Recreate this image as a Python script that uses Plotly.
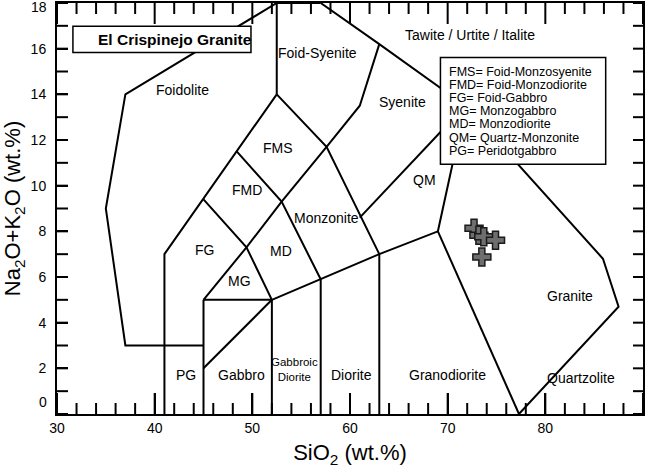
import plotly.graph_objects as go

# ---- sample data (El Crispinejo Granite) ----
sample_name = "El Crispinejo Granite"
sio2 = [72.7, 73.2, 73.7, 74.9, 73.5]
alkali = [8.13, 7.83, 7.76, 7.61, 6.88]

# ---- field boundary polylines (Middlemost 1994, plutonic TAS) ----
bnd_x = [
    [45, 37, 35, 37, 52.5],
    [52.5, 57],
    [52.5, 52.5],
    [57, 63, 71.8, 85.9, 87.5, 77.3],
    [63, 61, 57.6],
    [52.5, 48.4, 45, 41, 41],
    [52.5, 57.6, 63],
    [45, 49.4, 53, 57.6],
    [45, 49.4, 52],
    [48.4, 53, 57, 57],
    [52, 57, 63, 69, 71.8],
    [61, 71.8],
    [69, 77.3],
    [63, 63],
    [45, 45],
    [52, 52],
    [45, 52],
    [45, 52],
]
bnd_y = [
    [3, 3, 9, 14, 18],
    [18, 18],
    [18, 14],
    [18, 16.2, 13.5, 6.8, 4.7, 0],
    [16.2, 13.5, 11.7],
    [14, 11.5, 9.4, 7, 0],
    [14, 11.7, 7],
    [5, 7.3, 9.3, 11.7],
    [9.4, 7.3, 5],
    [11.5, 9.3, 5.9, 0],
    [5, 5.9, 7, 8, 13.5],
    [8.6, 13.5],
    [8, 0],
    [7, 0],
    [5, 0],
    [5, 0],
    [5, 5],
    [2, 5],
]

# ---- field names ----
field_text = ["Foidolite", "Foid-Syenite", "Tawite / Urtite / Italite", "Syenite",
              "FMS", "FMD", "QM", "Monzonite", "FG", "MD", "MG", "Granite",
              "PG", "Gabbro", "Diorite", "Granodiorite", "Quartzolite"]
field_x = [42.9, 56.7, 72.3, 65.4, 52.6, 49.5, 67.6, 57.6, 45.1, 52.9, 48.7, 82.5,
           43.2, 48.9, 60.2, 70.0, 83.7]
field_y = [14.2, 15.8, 16.6, 13.65, 11.64, 9.8, 10.24, 8.58, 7.18, 7.13, 5.82, 5.16,
           1.7, 1.7, 1.7, 1.7, 1.58]
small_text = "Gabbroic<br>Diorite"
small_xy = (54.3, 1.95)

# ---- abbreviation key ----
key_lines = ["FMS= Foid-Monzosyenite", "FMD= Foid-Monzodiorite", "FG= Foid-Gabbro",
             "MG= Monzogabbro", "MD= Monzodiorite", "QM= Quartz-Monzonite",
             "PG= Peridotgabbro"]

# ---- axis ticks ----
x_range = [30, 90]
y_range = [0, 18]
x_major = [30, 40, 50, 60, 70, 80, 90]
x_minor_step = 2
y_labelled = [2, 4, 6, 8, 10, 12, 14, 16]
y_minor_step = 1
y_end_labels = [0, 18]

FONT = "Liberation Sans, Arial, sans-serif"
XPX = 9.77   # px per wt.% SiO2
YPX = 22.85  # px per wt.% alkali

fig = go.Figure()
for xs, ys in zip(bnd_x, bnd_y):
    fig.add_trace(go.Scatter(x=xs, y=ys, mode="lines",
                             line=dict(color="black", width=2),
                             hoverinfo="skip", showlegend=False))

# frame tick marks on all four sides, built from the tick arrays
tx, ty = [], []
xv = x_range[0]
while xv <= x_range[1] + 1e-9:
    ln = (21 if xv in x_major else 11) / YPX
    tx += [xv, xv, None, xv, xv, None]
    ty += [y_range[0], y_range[0] + ln, None, y_range[1], y_range[1] - ln, None]
    xv += x_minor_step
yv = y_range[0]
while yv <= y_range[1] + 1e-9:
    tx += [x_range[0], x_range[0] + 11 / XPX, None, x_range[1], x_range[1] - 10 / XPX, None]
    ty += [yv, yv, None, yv, yv, None]
    yv += y_minor_step
fig.add_trace(go.Scatter(x=tx, y=ty, mode="lines", line=dict(color="black", width=2),
                         hoverinfo="skip", showlegend=False, connectgaps=False))

marker_style = dict(symbol="cross", size=15, color="#6e6e6e",
                    line=dict(color="#1a1a1a", width=1.5))
fig.add_trace(go.Scatter(x=sio2, y=alkali, mode="markers", marker=marker_style,
                         name=sample_name, showlegend=False))

# legend box (top-left)
leg_x0, leg_x1, leg_y0, leg_y1 = 31.63, 49.86, 15.83, 16.98
fig.add_shape(type="rect", x0=leg_x0, x1=leg_x1, y0=leg_y0, y1=leg_y1,
              line=dict(color="black", width=1.5), fillcolor="white", layer="above")
fig.add_trace(go.Scatter(x=[leg_x0 + 12 / XPX], y=[(leg_y0 + leg_y1) / 2], mode="markers",
                         marker=marker_style, showlegend=False, hoverinfo="skip"))
annotations = [dict(x=leg_x0 + 23 / XPX, y=(leg_y0 + leg_y1) / 2, text="<b>" + sample_name + "</b>",
                    xanchor="left", yanchor="middle", showarrow=False,
                    font=dict(family=FONT, size=15.5, color="black"))]

# key box
key_x0, key_x1, key_y0, key_y1 = 69.26, 86.18, 10.94, 15.61
fig.add_shape(type="rect", x0=key_x0, x1=key_x1, y0=key_y0, y1=key_y1,
              line=dict(color="black", width=1.5), fillcolor="white", layer="above")
for i, t in enumerate(key_lines):
    annotations.append(dict(x=key_x0 + 7 / XPX, y=key_y1 - (14.0 + 13.2 * i) / YPX, text=t,
                            xanchor="left", yanchor="middle", showarrow=False,
                            font=dict(family=FONT, size=12.5, color="black")))

for t, x, y in zip(field_text, field_x, field_y):
    annotations.append(dict(x=x, y=y, text=t, showarrow=False, xanchor="center",
                            yanchor="middle", font=dict(family=FONT, size=14, color="black")))
annotations.append(dict(x=small_xy[0], y=small_xy[1], text=small_text, showarrow=False,
                        font=dict(family=FONT, size=11.5, color="black")))

# end tick labels on y axis (offset inward, as in the original)
for v, shift in zip(y_end_labels, [12, -4]):
    annotations.append(dict(xref="paper", x=0, y=v, text=str(v), showarrow=False,
                            xanchor="right", yanchor="middle", xshift=-8, yshift=shift,
                            font=dict(family=FONT, size=14, color="black")))

axis_common = dict(ticks="inside", tickwidth=2, tickcolor="black",
                   showline=True, linecolor="black", linewidth=2, mirror=True,
                   showgrid=False, zeroline=False, automargin=False)

fig.update_layout(
    template="none",
    width=650, height=473,
    margin=dict(l=57, r=7, t=3, b=59),
    plot_bgcolor="white", paper_bgcolor="white",
    font=dict(family=FONT, size=14, color="black"),
    annotations=annotations,
    xaxis=dict(range=x_range, tickmode="array", tickvals=x_major, ticklen=21,
               tickfont=dict(family=FONT, size=14),
               title=dict(text="SiO<sub>2</sub> (wt.%)", font=dict(family=FONT, size=22), standoff=10),
               **axis_common),
    yaxis=dict(range=y_range, tickmode="array", tickvals=y_labelled, ticklen=11,
               ticklabelstandoff=6, tickfont=dict(family=FONT, size=14),
               title=dict(text="Na<sub>2</sub>O+K<sub>2</sub>O (wt.%)", font=dict(family=FONT, size=22), standoff=8),
               **axis_common),
)

fig.write_html("out.html", config={"displayModeBar": False},
               post_script="document.body.style.margin='0px';document.body.style.padding='0px';")
